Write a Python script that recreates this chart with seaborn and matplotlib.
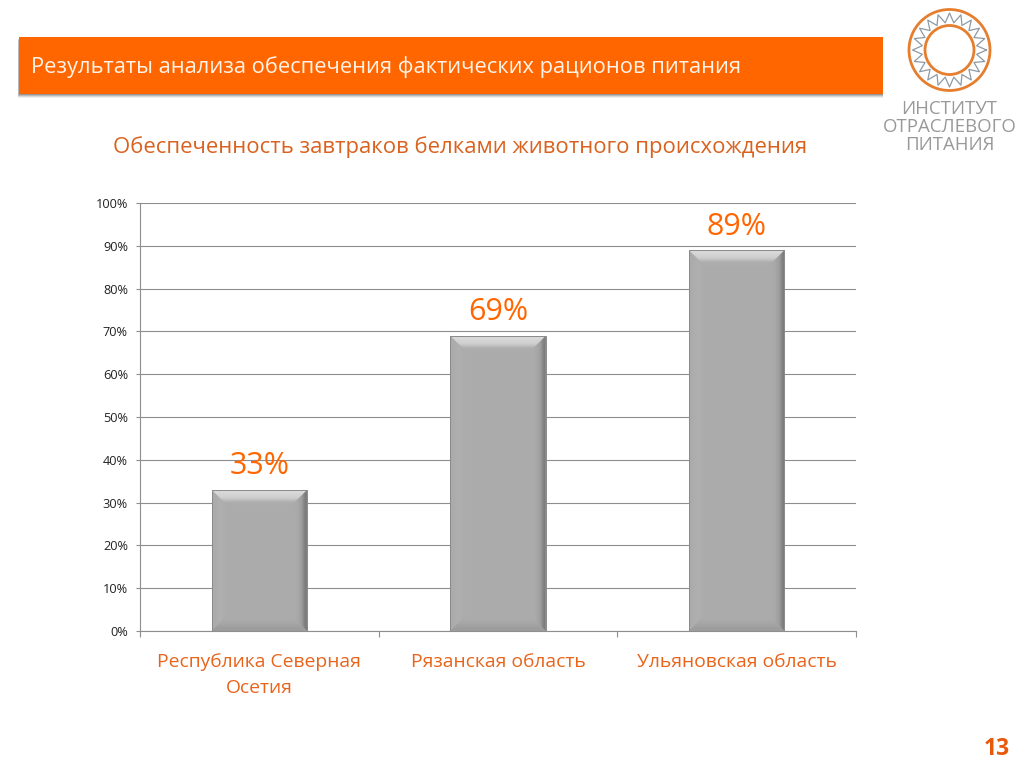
import numpy as np
import pandas as pd
import matplotlib
matplotlib.use("Agg")
import matplotlib.pyplot as plt
from matplotlib.patches import Rectangle, Polygon, Circle
import seaborn as sns

categories = ["Республика Северная\nОсетия", "Рязанская область", "Ульяновская область"]
values = [33, 69, 89]
y_ticks = [0, 10, 20, 30, 40, 50, 60, 70, 80, 90, 100]
header_text = "Результаты анализа обеспечения фактических рационов питания"
chart_title = "Обеспеченность завтраков белками животного происхождения"
logo_lines = ["ИНСТИТУТ", "ОТРАСЛЕВОГО", "ПИТАНИЯ"]
page_number = "13"

ORANGE = "#FF6600"
TEXT_ORANGE = "#E8641B"
GRID = "#8E8E8E"

sns.set_theme(style="white")
plt.rcParams["font.family"] = ["Open Sans", "DejaVu Sans"]

W, H = 1024, 768
fig = plt.figure(figsize=(W / 100, H / 100), dpi=100, facecolor="white")

# page layer in pixel coordinates
bg = fig.add_axes([0, 0, 1, 1], zorder=0)
bg.set_xlim(0, W)
bg.set_ylim(H, 0)
bg.axis("off")

for off, alpha in [(4, 0.06), (3, 0.10), (2, 0.14), (1, 0.18)]:
    bg.add_patch(Rectangle((19 - off * 0.3, 37 + off), 864 + off * 0.3, 57, fc="black", ec="none", alpha=alpha))
bg.add_patch(Rectangle((19, 37), 864, 57, fc=ORANGE, ec="none"))
bg.text(31, 67.5, header_text, color="#FFF3E8", fontsize=15.77, va="center", ha="left")
bg.text(460, 147, chart_title, color="#D9621F", fontsize=15.9, va="center", ha="center")
bg.text(996.5, 749, page_number, color="#E8590C", fontsize=16.5, fontweight="bold", va="center", ha="center")

# logo
cx, cy = 949.5, 50
bg.add_patch(Circle((cx, cy), 40.5, fc="none", ec="#E57E2E", lw=2.0))
bg.add_patch(Circle((cx, cy), 24.5, fc="none", ec="#E57E2E", lw=2.0))
n_teeth = 20
ang = np.linspace(0, 2 * np.pi, 2 * n_teeth + 1)
rad = np.where(np.arange(2 * n_teeth + 1) % 2 == 0, 37, 27.5)
bg.plot(cx + rad * np.cos(ang), cy + rad * np.sin(ang), color="#8E9AA3", lw=0.9)
for y, line in zip([109, 127, 145], logo_lines):
    bg.text(949.5, y, line, color="#999999", fontsize=13.4, va="center", ha="center")

# chart
ax = fig.add_axes([140 / W, 1 - 631 / H, 716 / W, 428 / H], zorder=1)
ax.patch.set_alpha(0)
df = pd.DataFrame({"region": categories, "share": values})
sns.barplot(data=df, x="region", y="share", ax=ax, color="#ABABAB", saturation=1,
            width=0.4, linewidth=0, zorder=3)
ax.set_xlim(-0.5, 2.5)
ax.set_ylim(0, 100)
ax.set_xlabel("")
ax.set_ylabel("")
ax.set_yticks(y_ticks)
ax.set_yticklabels([f"{v}%" for v in y_ticks], fontsize=9.2, color="#222222")
ax.set_xticks([0, 1, 2])
ax.set_xticklabels(categories, fontsize=13.9, color=TEXT_ORANGE, linespacing=1.53)
ax.tick_params(axis="x", length=0, pad=16)
ax.tick_params(axis="y", length=2.9, width=0.8, color=GRID, pad=5.8, left=True)
ax.set_xticks([-0.5, 0.5, 1.5, 2.5], minor=True)
ax.tick_params(axis="x", which="minor", length=4.5, width=0.8, color=GRID, bottom=True)
ax.grid(axis="y", color=GRID, lw=0.8, zorder=0)
ax.set_axisbelow(True)
for s in ["top", "right"]:
    ax.spines[s].set_visible(False)
for s in ["left", "bottom"]:
    ax.spines[s].set_visible(True)
    ax.spines[s].set_color(GRID)
    ax.spines[s].set_linewidth(0.8)


def bevel(pts, grad, extent, horizontal):
    """Fill a bevel polygon with a grey gradient clipped to it."""
    g = np.array(grad, dtype=float) / 255
    arr = g[None, :] if horizontal else g[:, None]
    im = ax.imshow(arr, cmap="gray", vmin=0, vmax=1, extent=extent, origin="upper",
                   aspect="auto", interpolation="bilinear", zorder=4)
    clip = Polygon(pts, transform=ax.transData, fc="none", ec="none")
    ax.add_patch(clip)
    im.set_clip_path(clip)


bx = 15 / (716 / 3)
by = 15 / 4.28
for p, v in zip(list(ax.patches), values):
    x0, x1 = p.get_x(), p.get_x() + p.get_width()
    y1 = p.get_height()
    tl, tr, bl, br = (x0, y1), (x1, y1), (x0, 0), (x1, 0)
    itl, itr, ibl, ibr = (x0 + bx, y1 - by), (x1 - bx, y1 - by), (x0 + bx, by), (x1 - bx, by)
    bevel([tl, itl, ibl, bl], [170, 173, 175, 172], (x0, x0 + bx, 0, y1), True)
    bevel([tr, itr, ibr, br], [171, 168, 158, 125], (x1 - bx, x1, 0, y1), True)
    bevel([bl, ibl, ibr, br], [171, 166, 156], (x0, x1, 0, by), False)
    bevel([tl, tr, itr, itl], [216, 206, 173], (x0, x1, y1 - by, y1), False)
    ax.plot([x0, x0, x1, x1, x0], [0, y1, y1, 0, 0], color="#8A8A8A", lw=0.7, zorder=5)
    ax.annotate(f"{v}%", (p.get_x() + p.get_width() / 2, y1), xytext=(0, 6), textcoords="offset points",
                ha="center", va="bottom", color=ORANGE, fontsize=22, zorder=6)

ax.set_xlim(-0.5, 2.5)
ax.set_ylim(0, 100)
fig.savefig("out.png", dpi=100)
